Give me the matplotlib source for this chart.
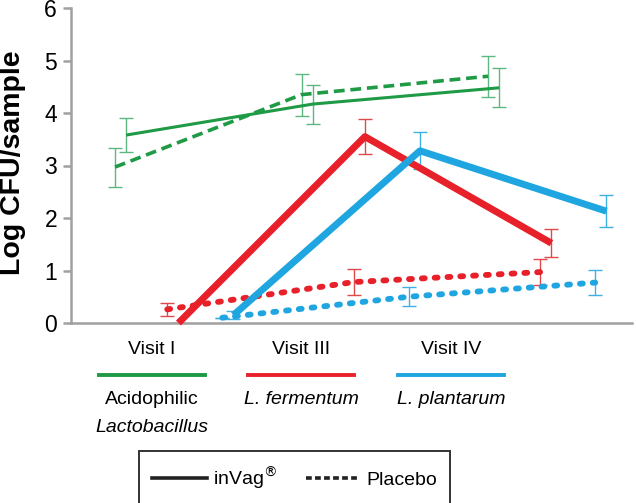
import numpy as np
import matplotlib.pyplot as plt
from matplotlib.lines import Line2D

plt.rcParams['font.family'] = ['Liberation Sans', 'DejaVu Sans']

visits = ['Visit I', 'Visit III', 'Visit IV']
species = [['Acidophilic', 'Lactobacillus'], ['L. fermentum'], ['L. plantarum']]
colors = ['#1f9a45', '#e8202a', '#1fa6e0']
err_colors = ['#5cb880', '#e0484a', '#3eb0e4']

# log CFU/sample
invag_green = [3.58, 4.17, 4.48]
invag_red = [0.0, 3.55, 1.52]
invag_blue = [0.15, 3.28, 2.13]
invag_green_err = [0.32, 0.37, 0.37]
invag_red_err = [0.0, 0.34, 0.27]
invag_blue_err = [0.08, 0.35, 0.31]

placebo_green = [2.97, 4.35, 4.70]
placebo_red = [0.26, 0.78, 0.97]
placebo_blue = [0.10, 0.50, 0.77]
placebo_green_err = [0.37, 0.40, 0.39]
placebo_red_err = [0.13, 0.25, 0.25]
placebo_blue_err = [0.0, 0.18, 0.24]

invag = [invag_green, invag_red, invag_blue]
invag_err = [invag_green_err, invag_red_err, invag_blue_err]
placebo = [placebo_green, placebo_red, placebo_blue]
placebo_err = [placebo_green_err, placebo_red_err, placebo_blue_err]

# staggered x positions (visit units)
visit_x = np.array([0.0, 1.0, 2.0])
species_shift = [0.0, 0.28, 0.575]
invag_shift = 0.06

W, H = 636, 503
fig = plt.figure(figsize=(W / 100, H / 100), dpi=100)
ax = fig.add_axes([71 / W, 1 - 323 / H, (632 - 71) / W, 315 / H])

for i in range(3):
    lw = 2.2 if i == 0 else 5.0
    xp = visit_x + species_shift[i]
    xi = xp + invag_shift
    # error bars
    ax.errorbar(xp, placebo[i], yerr=placebo_err[i], fmt='none', ecolor=err_colors[i],
                elinewidth=1.0, capsize=5, capthick=1.0, zorder=2)
    ax.errorbar(xi, invag[i], yerr=invag_err[i], fmt='none', ecolor=err_colors[i],
                elinewidth=1.0, capsize=5, capthick=1.0, zorder=2)
    # lines
    ax.plot(xi, invag[i], color=colors[i], lw=lw, solid_capstyle='butt', zorder=3,
            clip_on=False)
    if i == 0:
        ax.plot(xp, placebo[i], color=colors[i], lw=2.6, ls=(0, (3, 1.6)),
                dash_capstyle='butt', zorder=3)
    else:
        ax.plot(xp, placebo[i], color=colors[i], lw=4.2, ls=(0, (0.5, 1.7)),
                dash_capstyle='round', zorder=3)

ax.set_xlim(-0.236, 2.772)
ax.set_ylim(0, 6)
ax.set_yticks(range(7))
ax.set_xticks([])
for s in ['top', 'right']:
    ax.spines[s].set_visible(False)
for s in ['left', 'bottom']:
    ax.spines[s].set_color('#a0a0a0')
    ax.spines[s].set_linewidth(1.8)
ax.tick_params(axis='y', colors='#a0a0a0', length=6, width=1.8, labelsize=16.5,
               labelcolor='black', pad=4)
ax.set_ylabel('Log CFU/sample', fontsize=20.5, fontweight='bold')
ax.yaxis.set_label_coords(-0.080, 0.51)

# labels below the axis
fs = 14
label_x = [152, 301, 451]
for i in range(3):
    fx = label_x[i] / W
    fig.text(fx, 1 - 350 / H, visits[i], ha='center', va='center', fontsize=fs)
    fig.add_artist(Line2D([(label_x[i] - 53) / W, (label_x[i] + 53) / W],
                          [1 - 375 / H, 1 - 375 / H], color=colors[i], lw=2.8))
    for j, name in enumerate(species[i]):
        italic = not (i == 0 and j == 0)
        fig.text(fx, 1 - (400 + 28 * j) / H, name, ha='center', va='center',
                 fontsize=fs, style='italic' if italic else 'normal')

handles = [Line2D([], [], color='#222222', lw=2.6),
           Line2D([], [], color='#222222', lw=2.6, ls=(0, (1.6, 0.9)))]
leg = fig.legend(handles, ['inVag$^{\\circledR}$', 'Placebo'], loc='center',
                 bbox_to_anchor=(294.5 / W, 1 - 478 / H), ncol=2, fontsize=fs,
                 frameon=True, fancybox=False, edgecolor='black', handlelength=2.8,
                 columnspacing=1.5, borderpad=0.7, handletextpad=0.3,
                 borderaxespad=0)
leg.get_frame().set_linewidth(1.4)

fig.savefig('out.png', dpi=100)
